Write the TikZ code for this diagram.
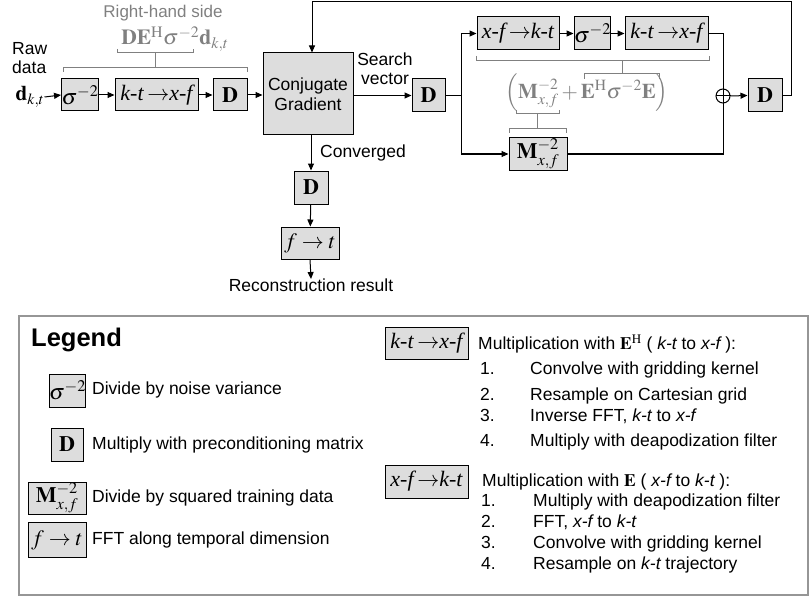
\documentclass[tikz,border=0pt]{standalone}
\usepackage{mathptmx}
\usepackage[no-math]{fontspec}
\setmainfont{Liberation Sans}
\newfontfamily\tmsfont{Liberation Serif}
\usepackage{tikz}
\usepackage{amsmath}
\usepackage{xcolor}
\usetikzlibrary{arrows.meta}

\definecolor{boxgray}{RGB}{221,221,221}
\definecolor{notegray}{RGB}{128,128,128}
\definecolor{framegray}{RGB}{150,150,150}

\newcommand{\ktxf}{{\tmsfont\itshape k-t\,}$\rightarrow${\tmsfont\itshape x-f}}
\newcommand{\xfkt}{{\tmsfont\itshape x-f\,}$\rightarrow${\tmsfont\itshape k-t}}
\newcommand{\msq}{$\mathbf{M}^{-2}_{x,f}$}

\tikzset{
	opbox/.style={draw=black, fill=boxgray, line width=1pt, inner sep=0pt, minimum height=32, font=\fontsize{22}{25}\selectfont},
	txt/.style={inner sep=0pt, text height=12.5pt, text depth=3.5pt, font=\fontsize{17.5}{19}\selectfont},
	note/.style={draw=notegray, line width=1pt},
	arr/.style={-{Triangle[length=7pt,width=6pt]}, line width=1pt},
	wire/.style={line width=1pt}
}

\begin{document}
\begin{tikzpicture}[x=1pt,y=1pt,yscale=-1,xscale=1]
	\useasboundingbox (0,0) rectangle (811,599);
	
	%Shape: Rectangle [main row]
	\node[opbox, minimum width=34] (sig1) at (80,95) {$\sigma^{-2}$};
	\node[opbox, minimum width=83] (kx1) at (156.5,95) {\ktxf};
	\node[opbox, minimum width=34] (d1) at (230,95) {$\mathbf{D}$};
	\node[opbox, minimum width=90, minimum height=82, font=\fontsize{17.5}{20}\selectfont, align=center] (cg) at (308,94) {Conjugate\\Gradient};
	\node[opbox, minimum width=33, minimum height=33] (d2) at (428.5,95.5) {$\mathbf{D}$};
	\node[opbox, minimum width=34, minimum height=33] (d3) at (765,95.5) {$\mathbf{D}$};
	%Shape: Rectangle [top branch]
	\node[opbox, minimum width=82, minimum height=33] (xk) at (518,33.5) {\xfkt};
	\node[opbox, minimum width=33, minimum height=33] (sig2) at (592.5,33.5) {$\sigma^{-2}$};
	\node[opbox, minimum width=83, minimum height=33] (kx2) at (666.5,33.5) {\ktxf};
	%Shape: Rectangle [lower branch]
	\node[opbox, minimum width=58] (mbox) at (538,154) {\msq};
	%Shape: Circle
	\node[draw, circle, line width=1pt, minimum size=14, inner sep=0pt] (plus) at (723,96) {};
	\draw[wire] (plus.north) -- (plus.south) (plus.west) -- (plus.east);
	%Shape: Rectangle [output]
	\node[opbox, minimum width=34, minimum height=33] (dconv) at (311,187.5) {$\mathbf{D}$};
	\node[opbox, minimum width=58] (ft) at (310,243) {$f\rightarrow t$};
	
	% Text Node
	\node[txt, align=left, anchor=west] (raw) at (12,69.5) {Raw\\data};
	\node[inner sep=0pt, font=\fontsize{21}{23}\selectfont] (dkt) at (30,97) {$\mathbf{d}_{k,t}$};
	\node[txt, align=center] (search) at (385,80) {Search\\vector};
	\node[txt, anchor=west] (conv) at (320,153) {Converged};
	\node[txt, anchor=north] (recon) at (311,279) {Reconstruction result};
	\node[txt, text=notegray, font=\fontsize{17}{20}\selectfont] (rhs) at (163,13) {Right-hand side};
	\node[inner sep=0pt, text=notegray, font=\fontsize{21.5}{24}\selectfont] (rhsmath) at (175,39) {$\mathbf{D}\mathbf{E}^{\mathrm{H}}\sigma^{-2}\mathbf{d}_{k,t}$};
	\node[inner sep=0pt, text=notegray, font=\fontsize{21}{24}\selectfont] (lhsmath) at (587,93) {$\Bigl(\mathbf{M}^{-2}_{x,f}+\mathbf{E}^{\mathrm{H}}\sigma^{-2}\mathbf{E}\Bigr)$};
	
	%Straight Lines [main row]
	\draw[arr] (dkt.east) -- (sig1.west);
	\draw[arr] (sig1) -- (kx1);
	\draw[arr] (kx1) -- (d1);
	\draw[arr] (d1.east) -- (d1.east -| cg.west);
	\draw[arr] (cg.east |- d2.west) -- (d2.west);
	\coordinate (split) at (461,95.5);
	\draw[wire] (d2.east) -- (split);
	\draw[arr] (split) |- (xk.west);
	\draw[arr] (split) |- (mbox.west);
	\draw[arr] (xk) -- (sig2);
	\draw[arr] (sig2) -- (kx2);
	\draw[wire] (kx2.east) -| (plus.north);
	\draw[wire] (mbox.east) -| (plus.south);
	\draw[arr] (plus.east) -- (d3.west);
	%Straight Lines [feedback]
	\coordinate (fbtop) at (312,2);
	\draw[arr] (d3.east) -- ++(9,0) |- (fbtop) -- (fbtop |- cg.north);
	%Straight Lines [output]
	\draw[arr] (dconv.north |- cg.south) -- (dconv.north);
	\draw[arr] (dconv) -- (ft);
	\draw[arr] (ft.south) -- (recon.north);
	
	%Brackets
	\draw[note] (63,72) -- (63,68) -- (247,68) -- (247,72);
	\draw[note] (155,68) -- (155,53);
	\draw[note] (117,49) -- (117,53) -- (193,53) -- (193,49);
	\draw[note] (476,56) -- (476,61) -- (709,61) -- (709,56);
	\draw[note] (622,61) -- (622,74);
	\draw[note] (584,79) -- (584,74) -- (659,74) -- (659,79);
	\draw[note] (516,110) -- (516,114) -- (559,114) -- (559,110);
	\draw[note] (537,114) -- (537,129);
	\draw[note] (509,133) -- (509,129) -- (566,129) -- (566,133);
	
	%Shape: Rectangle [legend]
	\draw[framegray, line width=1.2pt] (19,316) rectangle (808,595);
	\node[anchor=west, inner sep=0pt, font=\fontsize{25.5}{28}\bfseries] (legend) at (31,340) {Legend};
	\node[opbox, minimum width=33, minimum height=33] (lsig) at (67.5,390.5) {$\sigma^{-2}$};
	\node[txt, anchor=west] (lsigt) at (92,390) {Divide by noise variance};
	\node[opbox, minimum width=32, minimum height=33] (ld) at (67,444.5) {$\mathbf{D}$};
	\node[txt, anchor=west] (ldt) at (92,445) {Multiply with preconditioning matrix};
	\node[opbox, minimum width=58] (lm) at (57,498) {\msq};
	\node[txt, anchor=west] (lmt) at (92,498) {Divide by squared training data};
	\node[opbox, minimum width=58, minimum height=35] (lft) at (57,540) {$f\rightarrow t$};
	\node[txt, anchor=west] (lftt) at (92,540) {FFT along temporal dimension};
	
	\node[opbox, minimum width=83] (lkx) at (426.5,343) {\ktxf};
	\node[txt, anchor=west] (lkxt) at (478,345) {Multiplication with $\mathbf{E}^{\mathrm{H}}$ ( {\itshape k-t} to {\itshape x-f} ):};
	\foreach \n/\yy/\item in {1/370/{Convolve with gridding kernel}, 2/396/{Resample on Cartesian grid}, 3/417/{Inverse FFT, {\itshape k-t} to {\itshape x-f}}, 4/442/{Multiply with deapodization filter}}{
		\node[txt, anchor=west] (ehn\n) at (480,\yy) {\n.};
		\node[txt, anchor=west] (ehi\n) at (530,\yy) {\item};
	}
	\node[opbox, minimum width=83, minimum height=33] (lxk) at (426.5,481.5) {\xfkt};
	\node[txt, anchor=west] (lxkt) at (482,482) {Multiplication with $\mathbf{E}$ ( {\itshape x-f} to {\itshape k-t} ):};
	\foreach \n/\yy/\item in {1/502/{Multiply with deapodization filter}, 2/523/{FFT, {\itshape x-f} to {\itshape k-t}}, 3/544/{Convolve with gridding kernel}, 4/565/{Resample on {\itshape k-t} trajectory}}{
		\node[txt, anchor=west] (en\n) at (481,\yy) {\n.};
		\node[txt, anchor=west] (ei\n) at (533,\yy) {\item};
	}
	
\end{tikzpicture}
\end{document}
